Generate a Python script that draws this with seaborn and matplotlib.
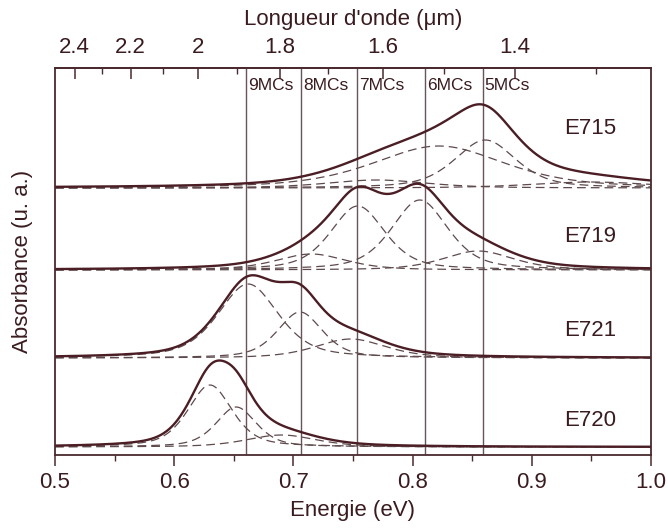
import numpy as np
import pandas as pd
import matplotlib
matplotlib.use("Agg")
import matplotlib.pyplot as plt
import seaborn as sns
from matplotlib.ticker import FixedLocator, MultipleLocator

# ---------------- data ----------------
samples = ["E715", "E719", "E721", "E720"]
offsets = [267, 185, 97, 8]          # vertical stacking offset of each spectrum (a.u.)

# fitted peak components of each spectrum: centre (eV), height (a.u.), half width (eV)
E715_centers = [0.770, 0.822, 0.861, 0.950]
E715_heights = [8, 42, 48, 6]
E715_widths = [0.050, 0.065, 0.0304, 0.060]

E719_centers = [0.715, 0.754, 0.806, 0.855]
E719_heights = [16, 64, 70, 19]
E719_widths = [0.035, 0.027, 0.028, 0.035]

E721_centers = [0.662, 0.7055, 0.748]
E721_heights = [74, 46, 19]
E721_widths = [0.030, 0.0223, 0.035]

E720_centers = [0.630, 0.652, 0.690]
E720_heights = [62, 40, 12]
E720_widths = [0.022, 0.020, 0.035]

lorentz_fraction = 0.5               # pseudo-Voigt line shape mix

label_x = [0.949, 0.949, 0.949, 0.949]
label_y = [327, 219, 125, 35]

mc_labels = ["9MCs", "8MCs", "7MCs", "6MCs", "5MCs"]
mc_energies = [0.660, 0.7061, 0.7534, 0.8104, 0.8588]

top_ticks = [2.4, 2.2, 2.0, 1.8, 1.6, 1.4]
top_minor = [2.3, 2.1, 1.9, 1.7, 1.5, 1.3]
bottom_ticks = [0.5, 0.6, 0.7, 0.8, 0.9, 1.0]

# ---------------- build table ----------------
params = {
    "E715": (E715_centers, E715_heights, E715_widths),
    "E719": (E719_centers, E719_heights, E719_widths),
    "E721": (E721_centers, E721_heights, E721_widths),
    "E720": (E720_centers, E720_heights, E720_widths),
}
energy = np.linspace(0.5, 1.0, 801)
rows = []
for s, off in zip(samples, offsets):
    cs, hs, ws = params[s]
    total = np.full_like(energy, float(off))
    for k, (c, h, w) in enumerate(zip(cs, hs, ws)):
        x2 = ((energy - c) / w) ** 2
        comp = h * (lorentz_fraction / (1.0 + x2)
                    + (1 - lorentz_fraction) * np.exp(-np.log(2) * x2))
        total = total + comp
        rows.append(pd.DataFrame({"energy": energy, "value": off + comp,
                                  "sample": s, "curve": f"c{k}"}))
    rows.append(pd.DataFrame({"energy": energy, "value": total,
                              "sample": s, "curve": "total"}))
df = pd.concat(rows, ignore_index=True)

# ---------------- plot ----------------
sns.set_theme(style="ticks")
plt.rcParams["font.family"] = ["Liberation Sans", "DejaVu Sans"]
txt = "#3a1c20"
solid_c = "#4a1e24"
dash_c = "#5e4a4d"
axis_c = "#4a2a2e"
fs = 16

fig = plt.figure(figsize=(6.68, 5.29), dpi=100)
ax = fig.add_axes([55 / 668, 1 - 455 / 529, (651 - 55) / 668, (455 - 68) / 529])

for s in samples:
    sub = df[df["sample"] == s]
    for cv in sub["curve"].unique():
        if cv == "total":
            continue
        sns.lineplot(data=sub[sub["curve"] == cv], x="energy", y="value", ax=ax,
                     color=dash_c, lw=0.9, estimator=None, sort=False,
                     linestyle=(0, (7, 4)), legend=False)
for s in samples:
    sub = df[(df["sample"] == s) & (df["curve"] == "total")]
    sns.lineplot(data=sub, x="energy", y="value", ax=ax, color=solid_c, lw=1.7,
                 estimator=None, sort=False, legend=False)

for e, lab in zip(mc_energies, mc_labels):
    ax.axvline(e, color="#6a5357", lw=1.0, zorder=1)
    ax.annotate(lab, xy=(e, 370), xytext=(1.5, 0), textcoords="offset points",
                ha="left", va="center", fontsize=12.5, color=txt)

for s, lx, ly in zip(samples, label_x, label_y):
    ax.text(lx, ly, s, ha="center", va="center", fontsize=fs, color=txt)

ax.set_xlim(0.5, 1.0)
ax.set_ylim(0, 387)
ax.set_yticks([])
ax.set_xticks(bottom_ticks)
ax.set_xticklabels([f"{t:.1f}" for t in bottom_ticks])
ax.xaxis.set_minor_locator(MultipleLocator(0.05))
ax.tick_params(axis="x", which="major", direction="out", length=8, width=1.1,
               colors=axis_c, labelcolor=txt, labelsize=fs, pad=4, top=False)
ax.tick_params(axis="x", which="minor", direction="out", length=4, width=1.0,
               colors=axis_c, top=False)
ax.set_xlabel("Energie (eV)", fontsize=fs, color=txt, labelpad=5)
ax.set_ylabel("Absorbance (u. a.)", fontsize=fs, color=txt, labelpad=16)
for sp in ax.spines.values():
    sp.set_visible(True)
    sp.set_color(axis_c)
    sp.set_linewidth(1.3)


def e2l(x):
    x = np.asarray(x, dtype=float)
    with np.errstate(divide="ignore", invalid="ignore"):
        return 1.23984 / x


sec = ax.secondary_xaxis("top", functions=(e2l, e2l))
sec.set_xticks(top_ticks)
sec.set_xticklabels([f"{t:g}" for t in top_ticks])
sec.xaxis.set_minor_locator(FixedLocator(top_minor))
sec.tick_params(axis="x", which="major", direction="in", length=8, width=1.1,
                colors=axis_c, labelcolor=txt, labelsize=fs, pad=7)
sec.tick_params(axis="x", which="minor", direction="in", length=4, width=1.0,
                colors=axis_c)
sec.spines["top"].set_color(axis_c)
sec.spines["top"].set_linewidth(1.3)
sec.set_xlabel("Longueur d'onde (μm)", fontsize=fs, color=txt, labelpad=9)

fig.savefig("out.png", dpi=100, facecolor="white")
